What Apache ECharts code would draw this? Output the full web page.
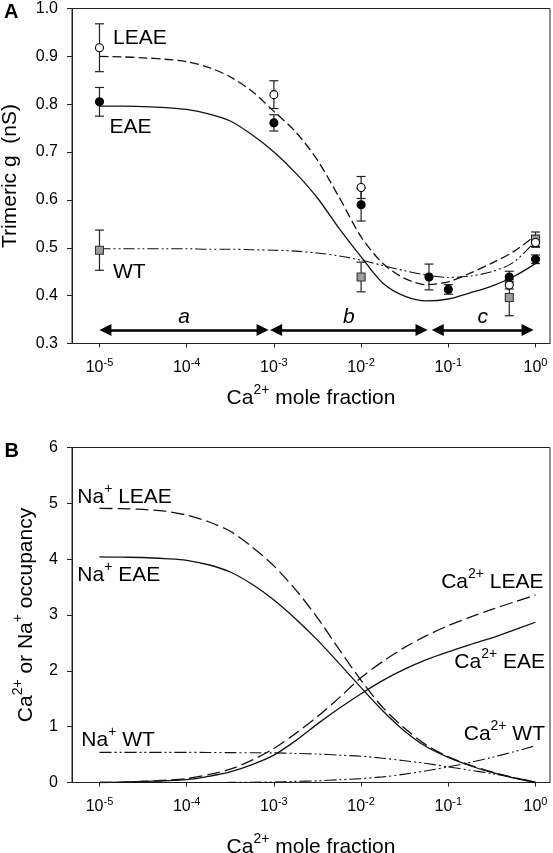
<!DOCTYPE html>
<html><head><meta charset="utf-8">
<script src="https://cdn.jsdelivr.net/npm/echarts@6/dist/echarts.min.js"></script>
<style>html,body{margin:0;padding:0;background:#fff}#c{width:553px;height:853px}</style>
</head><body><div id="c"></div>
<script>
const FONT = '"Liberation Sans", Arial, Helvetica, sans-serif';

// ---------- Panel A : trimeric conductance ----------
const obsX     = [1e-5, 1e-3, 1e-2, 0.06, 0.1, 0.5, 1];
const leaeObs  = [0.918, 0.820, 0.626, null, null, 0.422, 0.511];
const leaeErr  = [0.050, 0.029, 0.023, null, null, 0.008, 0.010];
const eaeObs   = [0.805, 0.761, 0.590, 0.439, 0.413, 0.439, 0.476];
const eaeErr   = [0.030, 0.017, 0.034, 0.027, 0.010, 0.012, 0.009];
const wtObs    = [0.495, null, 0.439, null, null, 0.396, 0.518];
const wtErr    = [0.042, null, 0.031, null, null, 0.038, 0.015];

// fit curves, sampled every quarter decade from 1e-5 to 1
const fitX     = [1e-5, 1.78e-5, 3.16e-5, 5.62e-5, 1e-4, 1.78e-4, 3.16e-4, 5.62e-4, 1e-3, 1.78e-3, 3.16e-3, 5.62e-3, 1e-2, 1.78e-2, 3.16e-2, 5.62e-2, 0.1, 0.178, 0.316, 0.562, 1];
const leaeFitA = [0.900, 0.899, 0.897, 0.894, 0.889, 0.877, 0.857, 0.827, 0.785, 0.742, 0.683, 0.605, 0.523, 0.467, 0.436, 0.423, 0.429, 0.447, 0.468, 0.492, 0.526];
const eaeFitA  = [0.796, 0.796, 0.795, 0.793, 0.789, 0.780, 0.765, 0.736, 0.700, 0.656, 0.604, 0.540, 0.481, 0.426, 0.399, 0.389, 0.393, 0.406, 0.420, 0.440, 0.467];
const wtFitA   = [0.498, 0.498, 0.498, 0.498, 0.498, 0.497, 0.497, 0.496, 0.495, 0.493, 0.489, 0.483, 0.474, 0.463, 0.452, 0.443, 0.438, 0.441, 0.450, 0.470, 0.514];

const arrowY      = 0.328;
const arrowSpans  = [[1.17e-5, 7.41e-4], [1.06e-3, 4.93e-2], [7.57e-2, 0.811]];
const arrowLabels = ['a', 'b', 'c'];

// ---------- Panel B : occupancy (same quarter-decade x samples) ----------
const naLEAE  = [4.91, 4.905, 4.89, 4.86, 4.79, 4.67, 4.50, 4.22, 3.88, 3.45, 2.95, 2.38, 1.83, 1.34, 0.97, 0.67, 0.46, 0.31, 0.19, 0.09, 0];
const naEAE   = [4.04, 4.035, 4.03, 4.01, 3.98, 3.90, 3.77, 3.55, 3.27, 2.93, 2.55, 2.13, 1.70, 1.28, 0.92, 0.64, 0.45, 0.30, 0.18, 0.08, 0];
const caLEAE  = [0, 0.005, 0.02, 0.04, 0.07, 0.14, 0.24, 0.40, 0.61, 0.88, 1.18, 1.52, 1.88, 2.17, 2.42, 2.63, 2.81, 2.96, 3.10, 3.23, 3.36];
const caEAE   = [0, 0.005, 0.02, 0.03, 0.05, 0.11, 0.19, 0.32, 0.49, 0.75, 1.05, 1.33, 1.59, 1.83, 2.03, 2.20, 2.34, 2.47, 2.59, 2.73, 2.87];
const naWT    = [0.54, 0.54, 0.54, 0.54, 0.54, 0.538, 0.535, 0.533, 0.53, 0.52, 0.51, 0.49, 0.47, 0.435, 0.39, 0.34, 0.28, 0.22, 0.16, 0.09, 0.01];
const caWT    = [0, 0, 0, 0, 0, 0, 0.002, 0.005, 0.01, 0.02, 0.03, 0.05, 0.07, 0.10, 0.15, 0.21, 0.28, 0.36, 0.45, 0.55, 0.66];

// ---------- axes ----------
const xTicks   = [1e-5, 1e-4, 1e-3, 1e-2, 1e-1, 1];
const yTicksA  = [0.3, 0.4, 0.5, 0.6, 0.7, 0.8, 0.9, 1.0];
const yTicksB  = [0, 1, 2, 3, 4, 5, 6];

const X_MIN = Math.pow(10, -5.315), X_MAX = Math.pow(10, 0.166);

const supRich = (main, sup) => ({
  m: {fontSize: main, lineHeight: 30, fontFamily: FONT, color: '#000'},
  s: {fontSize: sup, lineHeight: 10, verticalAlign: 'top', fontFamily: FONT, color: '#000'}
});
const tickRich = {
  m: {fontSize: 16, lineHeight: 20, fontFamily: FONT, color: '#000'},
  s: {fontSize: 11, lineHeight: 11, verticalAlign: 'top', fontFamily: FONT, color: '#000'}
};
const AX = '#222';

function xAxis(gridIndex, nameGap) {
  return {
    type: 'log', logBase: 10, gridIndex, min: X_MIN, max: X_MAX,
    axisLine: {show: true, lineStyle: {color: AX, width: 1}},
    axisTick: {show: true, length: 4, lineStyle: {color: AX}, customValues: xTicks},
    axisLabel: {show: true, margin: 14, customValues: xTicks, rich: tickRich,
      formatter: v => '{m|10}{s|' + Math.round(Math.log10(v)) + '}'},
    splitLine: {show: false}, minorTick: {show: false},
    name: '{m|Ca}{s|2+}{m| mole fraction}', nameLocation: 'middle', nameGap, nameMoveOverlap: false,
    nameTextStyle: {fontSize: 21, fontFamily: FONT, color: '#000', rich: supRich(21, 14)}
  };
}
function yAxis(gridIndex, min, max, interval, ticks, dec, name, nameGap) {
  return {
    type: 'value', gridIndex, min, max, interval,
    axisLine: {show: true, lineStyle: {color: AX, width: 1}},
    axisTick: {show: true, length: 5, lineStyle: {color: AX}, customValues: ticks},
    axisLabel: {show: true, margin: 14, customValues: ticks, fontSize: 16, fontFamily: FONT, color: '#000',
      formatter: v => v.toFixed(dec)},
    splitLine: {show: false},
    name, nameLocation: 'middle', nameGap, nameRotate: 90, nameMoveOverlap: false,
    nameTextStyle: {fontSize: 21, fontFamily: FONT, color: '#000', rich: supRich(21, 14)}
  };
}

const zip = (xs, ys) => xs.map((x, i) => [x, ys[i]]).filter(p => p[1] != null);

function fitLine(x, y, type, gi, width) {
  return {type: 'line', xAxisIndex: gi, yAxisIndex: gi, data: zip(x, y), showSymbol: false, symbol: 'none',
    smooth: 0.3, z: 2, silent: true,
    lineStyle: {color: '#111', width: width || 1.3, type}};
}
function errSeries(x, y, e) {
  const data = [];
  x.forEach((xv, i) => { if (y[i] != null && e[i] != null) data.push([xv, y[i] - e[i], y[i] + e[i]]); });
  return {type: 'custom', xAxisIndex: 0, yAxisIndex: 0, z: 3, silent: true, data,
    encode: {x: 0, y: [1, 2]},
    renderItem(params, api) {
      const xv = api.value(0);
      const lo = api.coord([xv, api.value(1)]), hi = api.coord([xv, api.value(2)]);
      const w = 4.5, st = {stroke: '#222', lineWidth: 1.2};
      return {type: 'group', children: [
        {type: 'line', shape: {x1: lo[0], y1: lo[1], x2: hi[0], y2: hi[1]}, style: st},
        {type: 'line', shape: {x1: lo[0] - w, y1: lo[1], x2: lo[0] + w, y2: lo[1]}, style: st},
        {type: 'line', shape: {x1: hi[0] - w, y1: hi[1], x2: hi[0] + w, y2: hi[1]}, style: st}
      ]};
    }};
}
function markers(x, y, symbol, fill, border, size) {
  return {type: 'scatter', xAxisIndex: 0, yAxisIndex: 0, z: 4, silent: true, data: zip(x, y),
    symbol, symbolSize: size,
    itemStyle: {color: fill, borderColor: border, borderWidth: 1.1, opacity: 1}};
}

const DASH_A = [9, 4];
const DDOT_A = [11, 3, 2, 3, 2, 3];
const DASH_B = [13, 5];
const DDOT_B = [12, 3, 2, 3, 2, 3];

const eaeFitSeries = fitLine(fitX, eaeFitA, 'solid', 0);
eaeFitSeries.markLine = {
  silent: true, animation: false,
  symbol: ['triangle', 'triangle'], symbolSize: [12, 12],
  lineStyle: {color: '#000', width: 2.6, type: 'solid'},
  itemStyle: {color: '#000'},
  label: {show: true, position: 'insideMiddleTop', distance: 2, formatter: p => p.name,
    fontStyle: 'italic', fontSize: 21, fontFamily: FONT, color: '#000'},
  emphasis: {disabled: true},
  data: arrowSpans.map((s, i) => [{name: arrowLabels[i], coord: [s[0], arrowY]}, {coord: [s[1], arrowY]}])
};

const txt = (x, y, text, align, rich, bold) => ({
  type: 'text', x, y, z: 20, silent: true,
  style: {text, align, verticalAlign: 'middle', fill: '#000',
    font: (bold ? 'bold ' : '') + (bold ? 20 : 21) + 'px ' + FONT, rich: rich || undefined}
});
const R = supRich(21, 14);

const gridBase = {left: 72, width: 478, height: 335, show: true, borderColor: AX, borderWidth: 1,
  backgroundColor: 'transparent', containLabel: false, outerBoundsMode: 'none'};

const option = {
  animation: false,
  backgroundColor: '#fff',
  grid: [
    Object.assign({top: 8.5}, gridBase),
    Object.assign({top: 447.5}, gridBase)
  ],
  xAxis: [xAxis(0, 40), xAxis(1, 50)],
  yAxis: [
    yAxis(0, 0.3, 1.0, 0.1, yTicksA, 1, '{m|Trimeric g  (nS)}', 47),
    yAxis(1, 0, 6, 1, yTicksB, 0, '{m|Ca}{s|2+}{m| or Na}{s|+}{m| occupancy}', 31)
  ],
  series: [
    fitLine(fitX, leaeFitA, DASH_A, 0),
    eaeFitSeries,
    fitLine(fitX, wtFitA, DDOT_A, 0, 1.1),
    errSeries(obsX, leaeObs, leaeErr),
    errSeries(obsX, eaeObs, eaeErr),
    errSeries(obsX, wtObs, wtErr),
    markers(obsX, wtObs, 'rect', '#9c9c9c', '#333', 8),
    markers(obsX, eaeObs, 'circle', '#000', '#000', 8),
    markers(obsX, leaeObs, 'circle', '#fff', '#000', 8),
    fitLine(fitX, naLEAE, DASH_B, 1),
    fitLine(fitX, naEAE, 'solid', 1),
    fitLine(fitX, caLEAE, DASH_B, 1),
    fitLine(fitX, caEAE, 'solid', 1),
    fitLine(fitX, naWT, DDOT_B, 1, 1.1),
    fitLine(fitX, caWT, DDOT_B, 1, 1.1)
  ],
  graphic: [
    txt(4, 12.5, 'A', 'left', null, true),
    txt(4.5, 451.5, 'B', 'left', null, true),
    txt(113, 38, 'LEAE', 'left'),
    txt(109.5, 127, 'EAE', 'left'),
    txt(113, 272, 'WT', 'left'),
    txt(77.3, 497.5, '{m|Na}{s|+}{m| LEAE}', 'left', R),
    txt(77.3, 575, '{m|Na}{s|+}{m| EAE}', 'left', R),
    txt(81.3, 740, '{m|Na}{s|+}{m| WT}', 'left', R),
    txt(543.5, 582.5, '{m|Ca}{s|2+}{m| LEAE}', 'right', R),
    txt(545, 662.5, '{m|Ca}{s|2+}{m| EAE}', 'right', R),
    txt(545, 734, '{m|Ca}{s|2+}{m| WT}', 'right', R)
  ]
};

const chart = echarts.init(document.getElementById('c'), null, {renderer: 'canvas', width: 553, height: 853});
chart.setOption(option);
</script></body></html>
